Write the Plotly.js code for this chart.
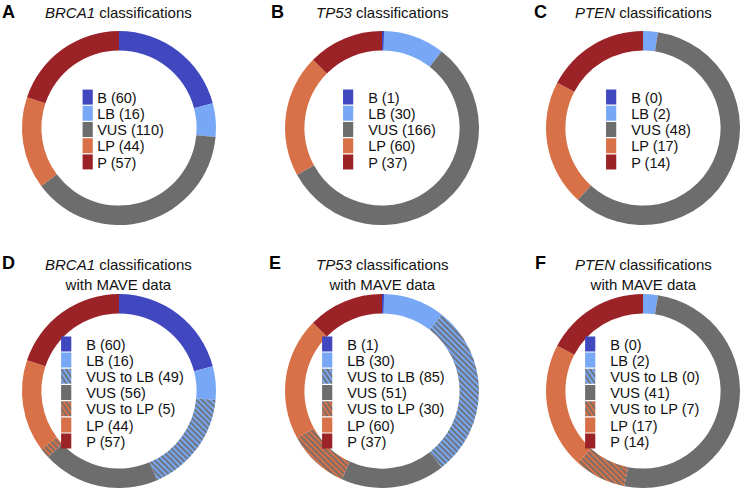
<!DOCTYPE html>
<html>
<head>
<meta charset="utf-8">
<script src="https://cdn.plot.ly/plotly-3.0.1.min.js"></script>
<style>
  html, body { margin: 0; padding: 0; background: #fff; }
  #chart { width: 741px; height: 488px; }
</style>
</head>
<body>
<div id="chart"></div>
<script>
// classification counts per gene
const basicCats = ['B', 'LB', 'VUS', 'LP', 'P'];
const maveCats = ['B', 'LB', 'VUS to LB', 'VUS', 'VUS to LP', 'LP', 'P'];

const brca1 = [60, 16, 110, 44, 57];
const tp53 = [1, 30, 166, 60, 37];
const pten = [0, 2, 48, 17, 14];

const brca1Mave = [60, 16, 49, 56, 5, 44, 57];
const tp53Mave = [1, 30, 85, 51, 30, 60, 37];
const ptenMave = [0, 2, 0, 41, 7, 17, 14];

const genes = ['BRCA1', 'TP53', 'PTEN', 'BRCA1', 'TP53', 'PTEN'];
const panelLetters = ['A', 'B', 'C', 'D', 'E', 'F'];

const blue = '#4047bf';
const lightBlue = '#78a8f5';
const grey = '#6d6d6d';
const orange = '#d87148';
const red = '#9b2227';

const catColors = {
    'B': blue, 'LB': lightBlue, 'VUS': grey, 'LP': orange, 'P': red,
    'VUS to LB': lightBlue, 'VUS to LP': orange
};

const W = 741, H = 488;
const font = 'Liberation Sans, Arial, Helvetica, sans-serif';
// pie centres in pixels
const centres = [[119, 128], [382, 128], [643, 128], [119, 391], [382, 391], [643, 391]];
const R = 97;
const legendSize = 14.5;
const rowStep = 16.2;

const panels = [
    [basicCats, brca1], [basicCats, tp53], [basicCats, pten],
    [maveCats, brca1Mave], [maveCats, tp53Mave], [maveCats, ptenMave]
];

const data = [];
const legendIds = [];
const layout = {
    width: W, height: H,
    margin: {l: 0, r: 0, t: 0, b: 0},
    paper_bgcolor: '#fff',
    showlegend: true,
    annotations: []
};

panels.forEach(function (p, i) {
    const cats = p[0], vals = p[1];
    const cx = centres[i][0], cy = centres[i][1];
    const legendName = i === 0 ? 'legend' : 'legend' + (i + 1);
    legendIds.push(legendName);
    const isHatch = cats.map(c => c.indexOf('VUS to') === 0);

    data.push({
        type: 'pie',
        // trailing spaces keep labels unique between panels (pie legends merge equal labels)
        labels: cats.map((c, j) => c + ' (' + vals[j] + ')' + ' '.repeat(i)),
        values: vals,
        sort: false,
        direction: 'clockwise',
        rotation: 0,
        hole: 0.8,
        textinfo: 'none',
        hoverinfo: 'label',
        legend: legendName,
        domain: {
            x: [(cx - R) / W, (cx + R) / W],
            y: [Math.max(0, (H - cy - R) / H), Math.min(1, (H - cy + R) / H)]
        },
        marker: {
            colors: cats.map(c => catColors[c]),
            line: {width: 0},
            pattern: {
                shape: isHatch.map(h => h ? '\\' : ''),
                fgcolor: isHatch.map(h => h ? grey : '#000'),
                bgcolor: cats.map(c => catColors[c]),
                size: 4,
                solidity: 0.45
            }
        }
    });

    layout[legendName] = {
        x: cx / W,
        y: 1 - cy / H,
        xanchor: 'center',
        yanchor: 'middle',
        bgcolor: 'rgba(0,0,0,0)',
        font: {family: font, size: legendSize, color: '#111'},
        traceorder: 'normal'
    };

    // titles
    let title = '<i>' + genes[i] + '</i> classifications';
    let ty = 1 - 12 / H;
    if (i >= 3) {
        title += '<br>with MAVE data';
        ty = 1 - 274.5 / H;
    }
    layout.annotations.push({
        text: title,
        x: cx / W, y: ty,
        xref: 'paper', yref: 'paper',
        xanchor: 'center', yanchor: 'middle',
        showarrow: false,
        font: {family: font, size: 15, color: '#111'}
    });
});

// panel letters
const letterPos = [[8, 12], [277, 12], [540, 12], [8, 263], [275, 263], [540, 263]];
panelLetters.forEach(function (l, i) {
    layout.annotations.push({
        text: '<b>' + l + '</b>',
        x: letterPos[i][0] / W, y: 1 - letterPos[i][1] / H,
        xref: 'paper', yref: 'paper',
        xanchor: 'center', yanchor: 'middle',
        showarrow: false,
        font: {family: font, size: 18, color: '#000'}
    });
});

function readTranslate(el) {
    const m = /translate\(\s*([-\d.e]+)[ ,]+([-\d.e]+)\s*\)/.exec(el.getAttribute('transform') || '');
    return m ? [parseFloat(m[1]), parseFloat(m[2])] : [0, 0];
}

// plotly keeps at least 19px between legend rows; tighten them to match the figure
function tightenLegends(gd) {
    legendIds.forEach(function (id, i) {
        const root = gd.querySelector('g.' + id);
        if (!root) return;
        const items = Array.from(root.querySelectorAll('g.traces'));
        if (!items.length) return;
        const y0 = readTranslate(items[0])[1];
        items.forEach(function (it, k) {
            const t = readTranslate(it);
            it.setAttribute('transform', 'translate(' + t[0] + ',' + (y0 + k * rowStep) + ')');
            it.querySelectorAll('path.legendpie').forEach(function (sw) {
                sw.setAttribute('transform', 'translate(20,0) scale(0.85,1.25)');
            });
            const txt = it.querySelector('text.legendtext');
            if (txt) txt.setAttribute('x', 29.5);
        });
        // re-centre the block in the donut hole
        let l = Infinity, r = -Infinity, t = Infinity, b = -Infinity;
        items.forEach(function (it) {
            const bb = it.getBoundingClientRect();
            l = Math.min(l, bb.left); r = Math.max(r, bb.right);
            t = Math.min(t, bb.top); b = Math.max(b, bb.bottom);
        });
        const dx = centres[i][0] + 2 - (l + r) / 2;
        const dy = centres[i][1] + 1.5 - (t + b) / 2;
        items.forEach(function (it) {
            const tr = readTranslate(it);
            it.setAttribute('transform', 'translate(' + (tr[0] + dx) + ',' + (tr[1] + dy) + ')');
        });
    });
}

Plotly.newPlot('chart', data, layout, {staticPlot: true}).then(tightenLegends);
</script>
</body>
</html>
